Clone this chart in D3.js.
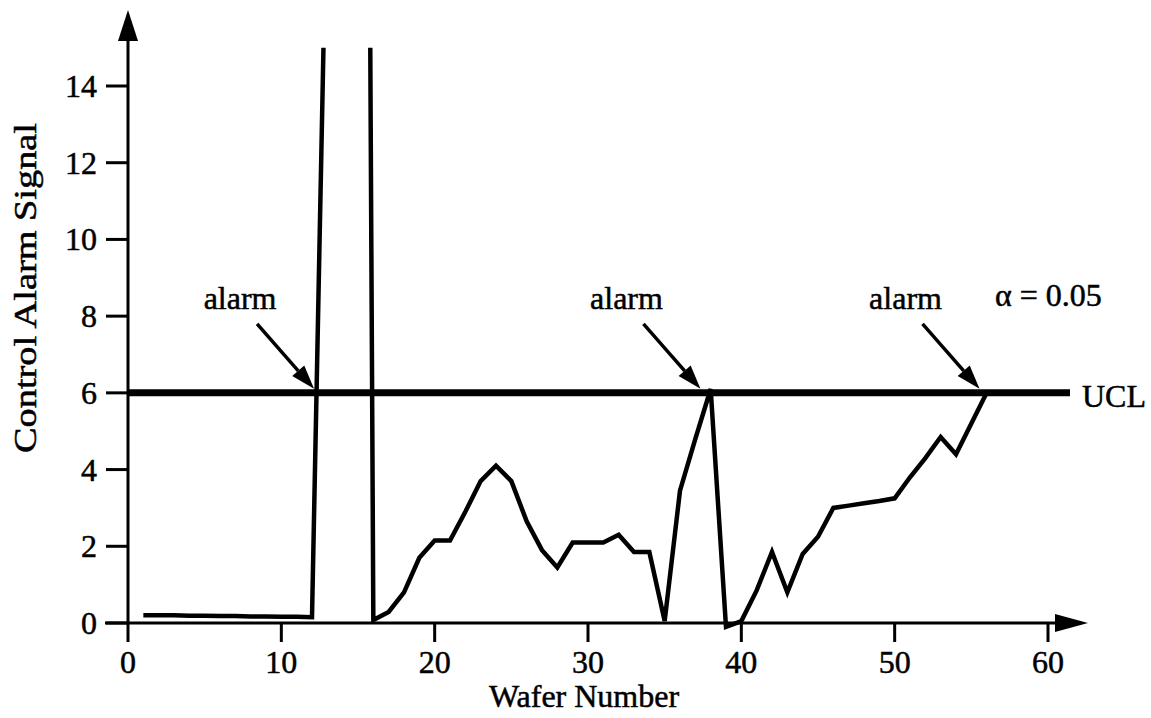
<!DOCTYPE html>
<html>
<head>
<meta charset="utf-8">
<script src="https://cdn.jsdelivr.net/npm/d3@7"></script>
<style>
  body { margin: 0; background: #fff; }
  svg text { font-family: "Liberation Serif", "DejaVu Serif", serif; fill: #000; stroke: #000; stroke-width: 0.5px; }
</style>
</head>
<body>
<div id="chart"></div>
<script>
const wafers = [1, 2, 3, 4, 5, 6, 7, 8, 9, 10, 11, 12, 13, 14, 15, 16, 17, 18, 19, 20,
  21, 22, 23, 24, 25, 26, 27, 28, 29, 30, 31, 32, 33, 34, 35, 36, 37, 38, 39, 40,
  41, 42, 43, 44, 45, 46, 47, 48, 49, 50, 51, 52, 53, 54, 55, 56];

// off-scale values at 13-15 run past the top of the plot
const signal = [0.2, 0.2, 0.2, 0.19, 0.19, 0.18, 0.18, 0.17, 0.17, 0.16, 0.16, 0.15,
  20, 40, 75,
  0.08, 0.29, 0.8, 1.7, 2.15, 2.15, 2.9, 3.7, 4.1, 3.7, 2.65, 1.9, 1.45, 2.1, 2.1,
  2.1, 2.3, 1.85, 1.85, 0.05, 3.45, 4.8, 6.1, -0.1, 0.05,
  0.85, 1.85, 0.8, 1.8, 2.25, 3.0, 3.06, 3.12, 3.18, 3.25, 3.8, 4.3, 4.85, 4.4, 5.2, 6.0];

const xTicks = [0, 10, 20, 30, 40, 50, 60];
const yTicks = [0, 2, 4, 6, 8, 10, 12, 14];
const ucl = 6;
const alarmAt = [12.2, 37.4, 55.6];

const width = 1151, height = 718;

const svg = d3.select("#chart").append("svg")
  .attr("width", width)
  .attr("height", height);

const x = d3.scaleLinear().domain([0, 60]).range([128, 1048]);
const y = d3.scaleLinear().domain([0, 14]).range([623, 86]);

// y axis
svg.append("line")
  .attr("x1", x(0)).attr("x2", x(0))
  .attr("y1", y(0) + 19).attr("y2", 30)
  .attr("stroke", "#000").attr("stroke-width", 3);
svg.append("path")
  .attr("d", `M${x(0)},10 L${x(0) - 10},41 L${x(0) + 10},41 Z`)
  .attr("fill", "#000");

// x axis
svg.append("line")
  .attr("x1", x(0) - 23).attr("x2", 1065)
  .attr("y1", y(0)).attr("y2", y(0))
  .attr("stroke", "#000").attr("stroke-width", 3);
svg.append("path")
  .attr("d", `M1088,${y(0)} L1055,${y(0) - 9} L1055,${y(0) + 9} Z`)
  .attr("fill", "#000");

// y ticks
svg.selectAll(".ytick")
  .data(yTicks)
  .enter()
  .append("line")
  .attr("x1", x(0) - 22).attr("x2", x(0))
  .attr("y1", d => y(d)).attr("y2", d => y(d))
  .attr("stroke", "#000").attr("stroke-width", 3);

svg.selectAll(".ylab")
  .data(yTicks)
  .enter()
  .append("text")
  .attr("x", 97)
  .attr("y", d => y(d) + 11)
  .attr("text-anchor", "end")
  .attr("font-size", "32px")
  .text(d => d);

// x ticks
svg.selectAll(".xtick")
  .data(xTicks.slice(1))
  .enter()
  .append("line")
  .attr("x1", d => x(d)).attr("x2", d => x(d))
  .attr("y1", y(0)).attr("y2", y(0) + 19)
  .attr("stroke", "#000").attr("stroke-width", 3);

svg.selectAll(".xlab")
  .data(xTicks)
  .enter()
  .append("text")
  .attr("x", d => x(d))
  .attr("y", 673)
  .attr("text-anchor", "middle")
  .attr("font-size", "32px")
  .text(d => d);

// axis titles
svg.append("text")
  .attr("x", x(30) - 4)
  .attr("y", 707)
  .attr("text-anchor", "middle")
  .attr("font-size", "32px")
  .text("Wafer Number");

svg.append("text")
  .attr("transform", `translate(36, 288) rotate(-90)`)
  .attr("text-anchor", "middle")
  .attr("font-size", "32px")
  .attr("textLength", 330)
  .attr("lengthAdjust", "spacingAndGlyphs")
  .text("Control Alarm Signal");

// UCL
svg.append("line")
  .attr("x1", x(0)).attr("x2", 1070)
  .attr("y1", y(ucl)).attr("y2", y(ucl))
  .attr("stroke", "#000").attr("stroke-width", 7);

svg.append("text")
  .attr("x", 1082)
  .attr("y", 407)
  .attr("font-size", "32px")
  .text("UCL");

svg.append("text")
  .attr("x", 995)
  .attr("y", 306)
  .attr("font-size", "32px")
  .text("α = 0.05");

// data line, clipped at the top of the scale
svg.append("clipPath")
  .attr("id", "plot-clip")
  .append("rect")
  .attr("x", x(0))
  .attr("y", y(15))
  .attr("width", 1000)
  .attr("height", 700);

const line = d3.line()
  .x((d, i) => x(wafers[i]))
  .y(d => y(d));

svg.append("path")
  .datum(signal)
  .attr("clip-path", "url(#plot-clip)")
  .attr("d", line)
  .attr("fill", "none")
  .attr("stroke", "#000")
  .attr("stroke-width", 4.5)
  .attr("stroke-linejoin", "miter");

// alarm annotations: shaft plus a long filled head
const head = 24, halfW = 8;
const alarms = svg.selectAll(".alarm")
  .data(alarmAt)
  .enter()
  .append("g");

function arrowGeom(d) {
  const tx = x(d) - 1, ty = y(ucl) - 4;
  const sx = tx - 57, sy = ty - 65;
  const len = Math.hypot(tx - sx, ty - sy);
  const ux = (tx - sx) / len, uy = (ty - sy) / len;
  return { sx, sy, tx, ty, ux, uy };
}

alarms.append("line")
  .attr("x1", d => arrowGeom(d).sx)
  .attr("y1", d => arrowGeom(d).sy)
  .attr("x2", d => { const g = arrowGeom(d); return g.tx - g.ux * head; })
  .attr("y2", d => { const g = arrowGeom(d); return g.ty - g.uy * head; })
  .attr("stroke", "#000")
  .attr("stroke-width", 3.5);

alarms.append("path")
  .attr("d", d => {
    const g = arrowGeom(d);
    const bx = g.tx - g.ux * head, by = g.ty - g.uy * head;
    const px = -g.uy * halfW, py = g.ux * halfW;
    return `M${g.tx},${g.ty} L${bx + px},${by + py} L${bx - px},${by - py} Z`;
  })
  .attr("fill", "#000");

alarms.append("text")
  .attr("x", d => x(d) - 75)
  .attr("y", 309)
  .attr("text-anchor", "middle")
  .attr("font-size", "32px")
  .text("alarm");
</script>
</body>
</html>
